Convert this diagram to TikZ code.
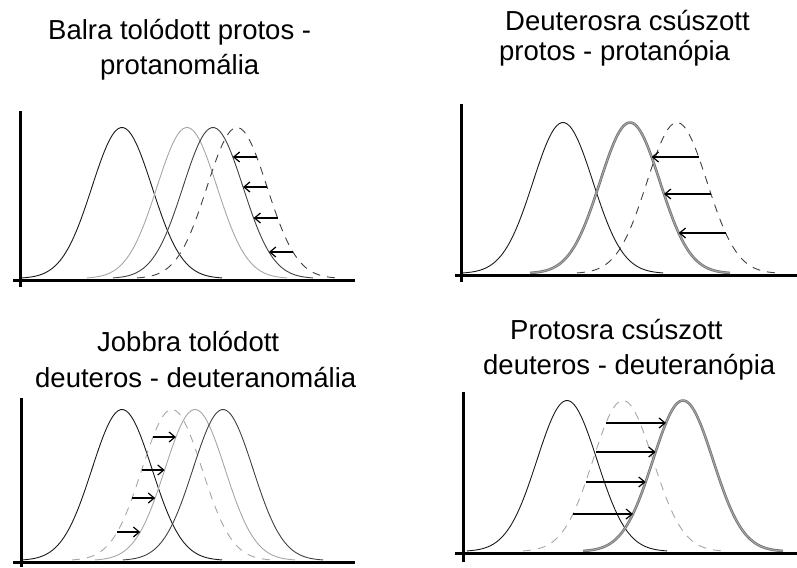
\documentclass[tikz,border=0pt]{standalone}
\usepackage{fontspec}
\setmainfont{Liberation Sans}
\usetikzlibrary{arrows.meta}
\tikzset{
    axis line/.style={line width=3pt, black},
    cone black/.style={line width=0.9pt, black!90},
    cone light/.style={line width=0.9pt, black!35},
    cone dark/.style={line width=0.9pt, black!75},
    cone dashed/.style={line width=0.9pt, black!75, dash pattern=on 8pt off 7pt},
    cone dashed light/.style={line width=0.9pt, black!35, dash pattern=on 8pt off 7pt},
    cone thick/.style={line width=0.8pt, draw=black!55, double=black!35, double distance=1pt},
    shift arrow/.style={-{Straight Barb[length=6pt,width=10pt]}, line width=1.2pt},
    title/.style={anchor=base west, inner sep=0pt, font=\fontsize{27.5}{31}\selectfont}
}
\newcommand{\conecurve}[3]{%
    \draw[#1] plot[domain={#2-100}:{#2+100}, samples=80, smooth]
        (\x, {#3 - 151*exp(-0.5*((\x-#2)/30)^2)});}

\begin{document}
\begin{tikzpicture}[x=1pt,y=-1pt]
    \useasboundingbox (0,0) rectangle (797,567);

    \node[title] (t1a) at (48,40) {Balra tolódott protos -};
    \node[title] (t1b) at (100,75) {protanomália};
    \node[title] (t2a) at (505,31) {Deuterosra csúszott};
    \node[title] (t2b) at (499,61) {protos - protanópia};
    \node[title] (t3a) at (97,351) {Jobbra tolódott};
    \node[title] (t3b) at (35,387) {deuteros - deuteranomália};
    \node[title] (t4a) at (510,339) {Protosra csúszott};
    \node[title] (t4b) at (483,374) {deuteros - deuteranópia};

    \conecurve{cone black}{122}{278.5}
    \conecurve{cone light}{187}{278.5}
    \conecurve{cone dark}{213}{278.5}
    \conecurve{cone dashed}{237}{278.5}
    \draw[axis line] (20,111) -- (20,287);
    \draw[axis line] (13,280) -- (355,280);
    \foreach \y in {157,187,218,252} {
        \pgfmathsetmacro{\off}{30*sqrt(-2*ln((278.5-\y)/151))}
        \coordinate (pro-a-\y) at ({237+\off},\y);
        \coordinate (pro-b-\y) at ({213+\off},\y);
        \draw[shift arrow] (pro-a-\y) -- (pro-b-\y);
    }

    \conecurve{cone black}{563}{273.5}
    \conecurve{cone thick}{630}{273.5}
    \conecurve{cone dashed}{677}{273.5}
    \draw[axis line] (461,104) -- (461,282);
    \draw[axis line] (455,275) -- (797,275);
    \foreach \y in {157,194,233} {
        \pgfmathsetmacro{\off}{30*sqrt(-2*ln((273.5-\y)/151))}
        \coordinate (prp-a-\y) at ({677+\off},\y);
        \coordinate (prp-b-\y) at ({630+\off},\y);
        \draw[shift arrow] (prp-a-\y) -- (prp-b-\y);
    }

    \conecurve{cone black}{122}{560.5}
    \conecurve{cone dashed light}{172}{560.5}
    \conecurve{cone light}{195}{560.5}
    \conecurve{cone dark}{223}{560.5}
    \draw[axis line] (21,398) -- (21,567);
    \draw[axis line] (13,562) -- (355,562);
    \foreach \y in {437,470,498,532} {
        \pgfmathsetmacro{\off}{30*sqrt(-2*ln((560.5-\y)/151))}
        \coordinate (deu-a-\y) at ({172-\off},\y);
        \coordinate (deu-b-\y) at ({195-\off},\y);
        \draw[shift arrow] (deu-a-\y) -- (deu-b-\y);
    }

    \conecurve{cone black}{567}{551.5}
    \conecurve{cone dashed light}{623}{551.5}
    \conecurve{cone thick}{683}{551.5}
    \draw[axis line] (463,392) -- (463,562);
    \draw[axis line] (455,553) -- (797,553);
    \foreach \y in {423,452,482,514} {
        \pgfmathsetmacro{\off}{30*sqrt(-2*ln((551.5-\y)/151))}
        \coordinate (dep-a-\y) at ({623-\off},\y);
        \coordinate (dep-b-\y) at ({683-\off},\y);
        \draw[shift arrow] (dep-a-\y) -- (dep-b-\y);
    }
\end{tikzpicture}
\end{document}
